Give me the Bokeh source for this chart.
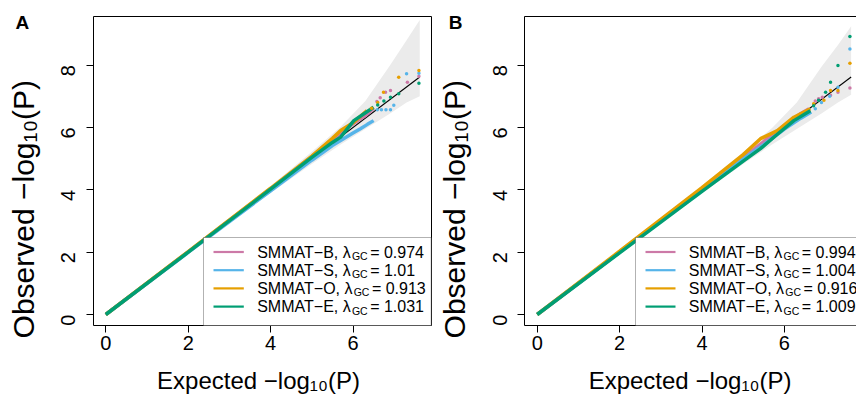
import math
from bokeh.plotting import figure
from bokeh.layouts import row
from bokeh.models import Label, BoxAnnotation, FixedTicker, Range1d, LinearAxis
from bokeh.embed import file_html
from bokeh.resources import INLINE

FONT = "Liberation Sans"

# ---------------- data ----------------
method_names = ["SMMAT−B", "SMMAT−S", "SMMAT−O", "SMMAT−E"]
method_colors = ["#CC79A7", "#56B4E9", "#E69F00", "#009E73"]
lambda_gc_a = ["0.974", "1.01", "0.913", "1.031"]
lambda_gc_b = ["0.994", "1.004", "0.916", "1.009"]
x_axis_ticks = [0, 2, 4, 6]
y_axis_ticks = [0, 2, 4, 6, 8]
x_title = "Expected  −log₁₀(P)"
y_title = "Observed  −log₁₀(P)"

diag_x = [0, 7.62]
diag_y = [0, 7.62]

# Panel A
a_band_x = [0, 2, 4, 5, 5.7, 6.3, 6.9, 7.3, 7.62]
a_band_lo = [0, 1.96, 3.9, 4.83, 5.45, 5.95, 6.45, 6.8, 7.0]
a_band_hi = [0, 2.04, 4.12, 5.22, 6.02, 6.85, 8.0, 8.8, 9.45]

a_B_x = [0, 2, 4, 5, 5.5, 5.8, 6.0, 6.3, 6.5]
a_B_y = [0, 2.01, 4.03, 5.06, 5.6, 5.93, 6.12, 6.38, 6.62]
a_B_px = [6.58, 6.66, 6.79, 6.91, 7.32, 7.60]
a_B_py = [6.83, 6.95, 7.13, 7.19, 7.45, 7.64]

a_S_x = [0, 2, 4, 5, 5.5, 5.7, 6.0, 6.18, 6.35, 6.5]
a_S_y = [0, 1.99, 3.97, 4.95, 5.42, 5.58, 5.82, 5.96, 6.1, 6.22]
a_S_px = [6.59, 6.69, 6.80, 6.91, 6.99, 7.30, 7.60]
a_S_py = [6.57, 6.57, 6.57, 6.57, 6.71, 7.72, 7.74]

a_O_x = [0, 2, 4, 5, 5.5, 5.7, 6.0, 6.34]
a_O_y = [0, 2.02, 4.05, 5.08, 5.65, 5.9, 6.15, 6.54]
a_O_px = [6.45, 6.6, 6.74, 7.11, 7.60]
a_O_py = [6.62, 6.8, 7.13, 7.61, 7.83]

a_E_x = [0, 2, 4, 5, 5.5, 5.7, 6.02, 6.5]
a_E_y = [0, 2.0, 4.02, 5.04, 5.52, 5.69, 6.22, 6.65]
a_E_px = [6.6, 6.75, 6.91, 7.11, 7.60]
a_E_py = [6.72, 6.85, 6.97, 7.08, 7.42]

# Panel B
b_band_x = [0, 2, 4, 5, 5.7, 6.3, 6.9, 7.3, 7.62]
b_band_lo = [0, 1.96, 3.9, 4.83, 5.45, 5.95, 6.45, 6.8, 7.05]
b_band_hi = [0, 2.04, 4.12, 5.2, 5.98, 6.8, 7.95, 8.65, 9.25]

b_B_x = [0, 2, 4, 5, 5.5, 6.0, 6.4, 6.6]
b_B_y = [0, 2.0, 4.01, 5.03, 5.55, 6.05, 6.45, 6.6]
b_B_px = [6.75, 6.83, 6.92, 7.12, 7.30, 7.59]
b_B_py = [6.85, 6.92, 6.97, 7.03, 7.13, 7.27]

b_S_x = [0, 2, 4, 5, 5.5, 6.0, 6.4, 6.65]
b_S_y = [0, 2.0, 3.99, 4.99, 5.45, 5.95, 6.3, 6.5]
b_S_px = [6.75, 6.9, 7.1, 7.30, 7.59]
b_S_py = [6.6, 6.8, 7.0, 7.29, 8.52]

b_O_x = [0, 2, 4, 5, 5.42, 5.83, 6.23, 6.63]
b_O_y = [0, 2.03, 4.07, 5.13, 5.64, 5.9, 6.33, 6.6]
b_O_px = [6.71, 6.96, 7.12, 7.30, 7.59]
b_O_py = [6.76, 6.87, 7.19, 7.19, 8.06]

b_E_x = [0, 2, 4, 5, 5.42, 5.8, 6.23, 6.63]
b_E_y = [0, 1.98, 3.95, 4.92, 5.32, 5.75, 6.22, 6.54]
b_E_px = [6.71, 6.83, 7.0, 7.12, 7.30, 7.59]
b_E_py = [6.70, 6.87, 7.13, 7.45, 7.99, 8.92]

panel_a = dict(
    letter="A", lambdas=lambda_gc_a,
    band=(a_band_x, a_band_lo, a_band_hi),
    series=[(a_B_x, a_B_y, a_B_px, a_B_py), (a_S_x, a_S_y, a_S_px, a_S_py),
            (a_O_x, a_O_y, a_O_px, a_O_py), (a_E_x, a_E_y, a_E_px, a_E_py)],
)
panel_b = dict(
    letter="B", lambdas=lambda_gc_b,
    band=(b_band_x, b_band_lo, b_band_hi),
    series=[(b_B_x, b_B_y, b_B_px, b_B_py), (b_S_x, b_S_y, b_S_px, b_S_py),
            (b_O_x, b_O_y, b_O_px, b_O_py), (b_E_x, b_E_y, b_E_px, b_E_py)],
)

# ---------------- layout (screen pixels) ----------------
PX_X = 41.2      # px per unit, x
PX_Y = 31.17     # px per unit, y
Y0_PAGE = 314.0
FRAME_TOP = 16.0
FRAME_BOTTOM = 325.0
FIG_H = 396

ARIAL = {"S": 667, "M": 833, "A": 667, "T": 611, "B": 667, "O": 778, "E": 667,
         "−": 584, ",": 278, " ": 278, "λ": 500, "G": 778, "C": 722, "=": 584,
         ".": 278}


def text_w(s, size):
    return sum(ARIAL.get(c, 556) for c in s) * size / 1000.0


def border_axis(bounds, fixed):
    return LinearAxis(fixed_location=fixed, bounds=bounds,
                      ticker=FixedTicker(ticks=[]), axis_line_color="black",
                      axis_line_width=1, major_tick_line_color=None,
                      minor_tick_line_color=None, major_label_text_font_size="0px")


def make_panel(cfg, fig_left, width, frame_left, frame_right, x0_page,
               leg_left, leg_text_x, leg_line_x0, leg_line_x1, letter_x, ytitle_x,
               right_border):
    def dx(px):
        return (px - x0_page) / PX_X

    def dy(py):
        return (Y0_PAGE - py) / PX_Y

    p = figure(width=width, height=FIG_H, output_backend="svg",
               toolbar_location=None,
               x_range=Range1d(dx(fig_left), dx(fig_left + width)),
               y_range=Range1d(dy(FIG_H), dy(0)),
               min_border=0, min_border_left=0, min_border_right=0,
               min_border_top=0, min_border_bottom=0)
    p.grid.visible = False
    p.outline_line_color = None
    p.background_fill_color = "white"
    p.border_fill_color = "white"

    xb = (dx(frame_left), dx(frame_right))
    yb = (dy(FRAME_BOTTOM), dy(FRAME_TOP))

    xa = p.xaxis[0]
    ya = p.yaxis[0]
    xa.fixed_location = dy(FRAME_BOTTOM)
    xa.bounds = xb
    xa.ticker = FixedTicker(ticks=x_axis_ticks)
    ya.fixed_location = dx(frame_left)
    ya.bounds = yb
    ya.ticker = FixedTicker(ticks=y_axis_ticks)
    for ax in (xa, ya):
        ax.axis_line_color = "black"
        ax.axis_line_width = 1
        ax.major_tick_line_color = "black"
        ax.major_tick_out = 7
        ax.major_tick_in = 0
        ax.minor_tick_line_color = None
        ax.major_label_text_font = FONT
        ax.major_label_text_font_size = "20px"
        ax.major_label_text_color = "black"
    xa.major_label_standoff = 3
    ya.major_label_standoff = 18
    ya.major_label_orientation = math.pi / 2

    p.add_layout(border_axis(xb, dy(FRAME_TOP)), "above")
    if right_border:
        p.add_layout(border_axis(yb, dx(frame_right)), "right")

    bx, blo, bhi = cfg["band"]
    p.varea(x=bx, y1=blo, y2=bhi, fill_color="#EBEBEB", fill_alpha=1.0)
    p.line(diag_x, diag_y, line_color="black", line_width=1.1)

    for (lx, ly, sx, sy), col in zip(cfg["series"], method_colors):
        p.line(lx, ly, line_color=col, line_width=3.5)
    for (lx, ly, sx, sy), col in zip(cfg["series"], method_colors):
        p.scatter(sx, sy, size=3.5, fill_color=col, line_color=None)

    # legend box
    p.add_layout(BoxAnnotation(left=dx(leg_left), right=dx(frame_right),
                               top=dy(237), bottom=dy(FRAME_BOTTOM),
                               fill_color="white", fill_alpha=1.0,
                               line_color="black", line_width=1))
    for i, (name, col, lam) in enumerate(zip(method_names, method_colors, cfg["lambdas"])):
        yrow = 251.5 + 18.2 * i
        p.segment(x0=[dx(leg_line_x0)], y0=[dy(yrow)], x1=[dx(leg_line_x1)], y1=[dy(yrow)],
                  line_color=col, line_width=2.2, level="overlay")
        part1 = f"{name}, λ"
        x1 = leg_text_x
        x2 = x1 + text_w(part1, 16)
        x3 = x2 + text_w("GC", 10.5) + 2.5
        p.add_layout(Label(x=dx(x1), y=dy(yrow), text=part1, text_font=FONT,
                           text_font_size="16px", text_baseline="middle", text_align="left",
                           text_color="black"))
        p.add_layout(Label(x=dx(x2), y=dy(yrow + 4), text="GC", text_font=FONT,
                           text_font_size="10.5px", text_baseline="middle", text_align="left",
                           text_color="black"))
        p.add_layout(Label(x=dx(x3), y=dy(yrow), text=f"= {lam}", text_font=FONT,
                           text_font_size="16px", text_baseline="middle", text_align="left",
                           text_color="black"))

    # axis titles and panel letter
    p.add_layout(Label(x=dx(frame_left + 168.6), y=dy(379.5), text=x_title, text_font=FONT,
                       text_font_size="24px", text_align="center",
                       text_baseline="middle", text_color="black"))
    p.add_layout(Label(x=dx(ytitle_x), y=dy(204.5), text=y_title, text_font=FONT,
                       text_font_size="30px", text_align="center", angle=math.pi / 2,
                       text_baseline="middle", text_color="black"))
    p.add_layout(Label(x=dx(letter_x), y=dy(21.7), text=cfg["letter"], text_font=FONT,
                       text_font_size="19px", text_font_style="bold", text_align="left",
                       text_baseline="middle", text_color="black"))
    return p


pa = make_panel(panel_a, fig_left=0, width=434, frame_left=92.7, frame_right=430.7,
                x0_page=105.3, leg_left=203, leg_text_x=256.7,
                leg_line_x0=213, leg_line_x1=243.3, letter_x=15, ytitle_x=22.5,
                right_border=True)
pb = make_panel(panel_b, fig_left=434, width=422, frame_left=524.3, frame_right=862.7,
                x0_page=536.7, leg_left=635, leg_text_x=688.3,
                leg_line_x0=645, leg_line_x1=675, letter_x=448.3, ytitle_x=453.8,
                right_border=False)

layout = row(pa, pb)
open("out.html", "w").write(file_html(layout, INLINE))
